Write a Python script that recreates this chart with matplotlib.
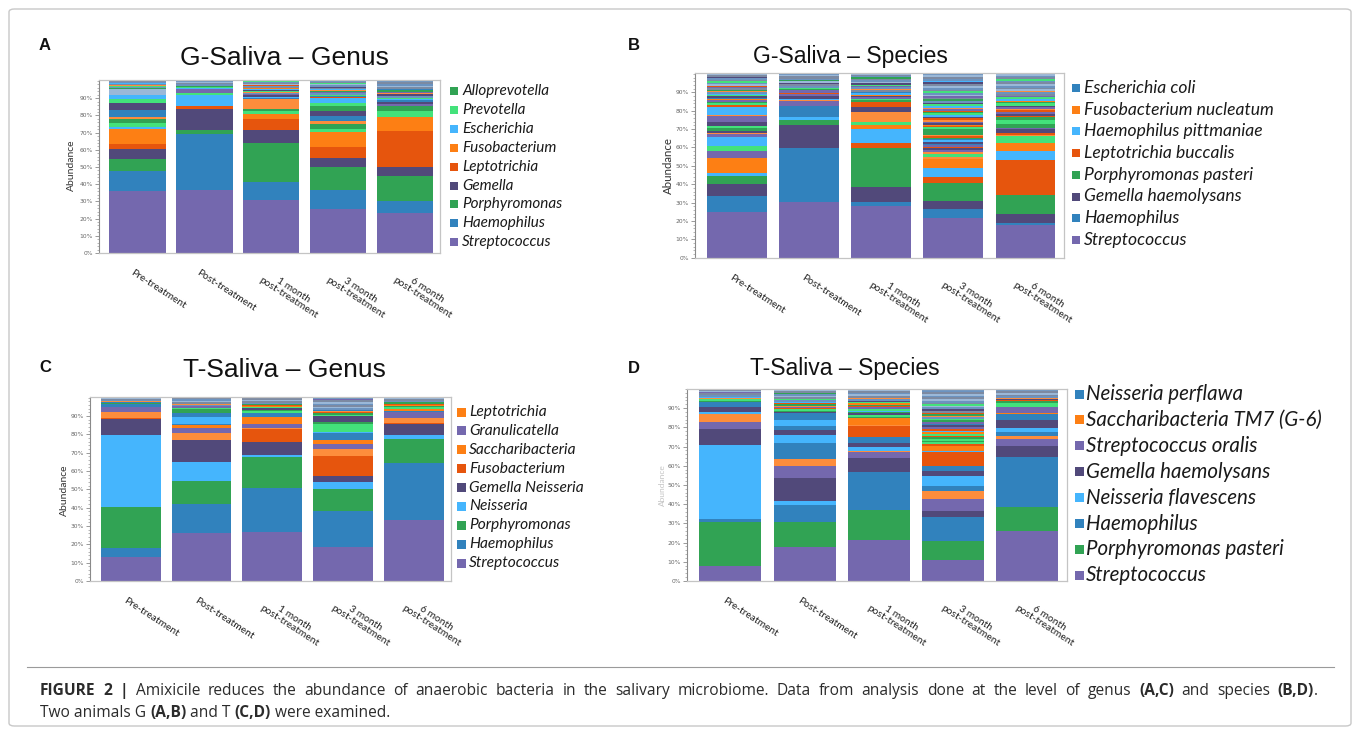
import matplotlib
matplotlib.use("Agg")
import numpy as np
import matplotlib.pyplot as plt
from matplotlib.patches import Rectangle, FancyBboxPatch
from matplotlib.ticker import MultipleLocator, FixedLocator, FuncFormatter
import matplotlib.transforms as mtransforms
from matplotlib.lines import Line2D

# ---------------- data ----------------
timepoints = ["Pre-treatment", "Post-treatment", "1 month\npost-treatment",
              "3 month\npost-treatment", "6 month\npost-treatment"]

# taxon keys: S Streptococcus, H Haemophilus, P Porphyromonas, G Gemella,
# L Leptotrichia, F Fusobacterium, O light orange taxon, E light-blue taxon,
# V light-green taxon, B/K/W minor taxa (blue-grey shades)
A_vals = [
    [36.2, 11.6, 6.8, 6.0, 2.9, 8.7, 1.0, 2.3, 2.7, 0.6, 4.6, 3.7, 2.5, 2.3, 3.5,
     0.6, 0.5, 0.7, 0.4, 0.6, 0.5, 0.6, 0.7],
    [36.8, 32.5, 2.3, 12.2, 1.9, 6.2, 1.0, 2.3,
     0.4, 0.6, 0.5, 0.6, 0.7, 0.8, 0.5, 0.7],
    [30.6, 10.4, 22.7, 8.1, 6.2, 2.9, 1.4, 1.3, 5.8, 0.8, 0.7, 0.9, 0.7,
     0.6, 0.4, 0.5, 0.6, 0.5, 0.5, 0.4, 0.7, 0.6, 0.4, 0.6, 0.7, 0.6, 0.4],
    [25.5, 11.3, 13.5, 4.9, 6.5, 8.9, 1.4, 2.9, 2.1, 2.9, 2.9, 2.4, 1.9, 2.9,
     0.8, 0.7, 0.6, 0.8, 0.7, 0.6, 0.5, 0.7, 0.8, 0.6, 0.7, 0.6, 0.5, 0.8, 0.6],
    [23.2, 6.8, 14.5, 5.4, 21.1, 7.8, 3.5, 3.4,
     1.2, 0.8, 1.0, 0.8, 0.7, 1.0, 1.2, 0.6, 0.9, 0.7, 1.0, 0.9, 0.8, 1.0, 1.0, 0.7],
]
A_keys = [
    "SHPGLFEVPOHGVEW" + "PBVOKEBK",
    "SHPGLEVS" + "OEVPBKWB",
    "SHPGLFVPOHEGS" + "BOVGEPFKBLWKBV",
    "SHPGLFVPOHGPVE" + "LHVBSPOEKGBWVKB",
    "SHPGLFVP" + "SGHEVBGOSPHKWBKB",
]

B_vals = [
    [24.9, 8.9, 6.3, 4.4, 1.8, 8.0, 3.9, 2.6, 5.1, 1.3, 0.5, 1.5, 1.2, 1.5, 1.8, 3.3, 0.5, 4.5,
     1.2, 0.8, 0.9, 0.7, 0.6, 0.9, 0.8, 0.7, 0.6, 1.0, 0.5, 0.8, 0.9, 0.7, 0.5, 0.8, 0.9,
     0.6, 1.0, 0.9, 0.7, 1.0, 0.5],
    [30.3, 29.6, 12.3, 2.7, 1.9, 5.9, 2.8,
     0.5, 0.5, 1.5, 1.0, 0.8, 1.2, 0.9, 0.6, 1.0, 0.8, 0.7, 0.9, 0.6, 1.0, 1.1, 0.8, 0.6],
    [28.1, 2.2, 8.0, 21.6, 2.7, 7.3, 2.3, 1.5, 5.8, 2.7, 2.7,
     0.8, 0.7, 1.0, 0.8, 0.6, 0.7, 0.9, 0.8, 0.6, 0.9, 0.8, 0.6, 0.7, 0.8, 0.9, 1.0, 0.6,
     0.9, 0.6, 0.4],
    [21.4, 5.1, 4.3, 9.7, 3.6, 4.5, 5.1, 1.0, 1.9,
     1.0, 0.9, 1.1, 0.7, 0.8, 1.0, 0.9, 0.8, 1.0, 0.6, 0.7, 0.8, 3.3, 0.8, 0.6, 0.8, 0.9,
     0.8, 1.0, 0.7, 1.0, 0.8, 0.9, 0.8, 0.7, 0.9, 0.8, 0.9, 0.8, 0.9, 1.0, 0.8, 1.0, 0.8,
     0.9, 1.0, 0.7, 1.0, 0.9, 0.8, 1.2, 1.0, 0.9, 1.2, 1.0, 0.8, 0.7],
    [17.8, 1.1, 4.9, 10.3, 19.1, 4.9, 4.1, 4.0,
     0.8, 0.9, 2.0, 0.8, 2.0, 2.4, 1.2, 0.7, 1.3, 1.0, 0.8, 0.7, 1.2, 0.8, 1.2, 0.8, 0.7,
     0.8, 1.0, 0.9, 1.0, 0.9, 0.6, 0.9, 1.0, 1.0, 0.8, 1.0, 1.0, 0.9, 0.9, 0.9, 0.9],
]
B_keys = [
    "SHGPEFSVESOGPVGSOE" + "LVPSFHGVEBOPKSLWBVKBGKW",
    "SHGPEHS" + "OEGSLSPVBKGWPBKWB",
    "SHGPLEFVOGL" + "PVSGFEHKOBSVGWBKPBKW",
    "SHGPLEFOV" + "OSGLSHGEHPLOPVLFGSOLGEVPLSOEVGBPKSWBVKBWKGEBKWB",
    "SHGPLEFV" + "OLGSPVPLGSLOSGVPFEVSKBOWKBWKBVKBW",
]

C_vals = [
    [13.3, 4.5, 22.7, 39.1, 8.6, 0.5, 3.3, 3.1, 1.4,
     0.6, 0.8, 0.5, 0.6, 0.5, 0.5],
    [26.4, 15.4, 12.7, 10.2, 12.2, 4.0, 2.7, 1.5, 0.5, 3.9, 2.0, 2.3,
     0.8, 0.7, 0.8, 0.5, 0.9, 0.8, 0.8, 0.9],
    [26.5, 24.0, 17.3, 0.7, 7.5, 6.9, 0.5, 2.4, 3.8, 1.9, 1.2,
     0.8, 0.7, 0.6, 0.5, 0.5, 0.7, 0.8, 0.9, 0.8, 1.0],
    [18.7, 19.7, 11.8, 3.6, 3.5, 10.9, 3.8, 2.5, 2.6, 3.8, 0.5, 4.1, 1.4, 3.3,
     0.6, 0.7, 0.6, 0.5, 0.8, 0.9, 0.8, 0.9, 0.8, 0.9, 0.8, 0.7, 0.8],
    [33.3, 31.2, 12.8, 2.3, 5.9, 0.5, 2.7, 3.3, 1.0, 1.0,
     0.7, 1.0, 0.6, 0.5, 0.8, 0.8, 0.8, 0.8],
]
C_keys = [
    "SHPEGLOSH" + "PHOBKW",
    "SHPEGOSFHEHP" + "VSBOKWBK",
    "SHPEGLOSFHV" + "PGVFLPBKWK",
    "SHPEGLOSFHEVPG" + "VPLOHBWKBWKSB",
    "SHPEGLOSHF" + "VPFLPBKW",
]

D_vals = [
    [7.8, 23.1, 1.4, 38.4, 8.3, 4.0, 3.9, 1.3, 2.5, 1.9,
     0.8, 0.5, 0.6, 1.0, 0.5, 0.8, 0.8, 0.6, 0.8, 1.0],
    [17.9, 12.7, 9.0, 1.9, 12.2, 6.1, 3.8, 8.2, 4.2, 2.5, 2.3, 3.1, 3.3,
     0.8, 0.6, 0.7, 0.6, 0.8, 0.5, 0.8, 0.7, 0.6, 0.9, 0.6, 0.8, 0.8, 0.9, 0.6, 0.9, 0.7, 0.5],
    [21.4, 15.6, 19.5, 7.4, 3.3, 0.7, 1.9, 2.1, 2.8, 5.9, 0.7, 3.5,
     0.8, 0.9, 0.7, 0.8, 0.7, 0.9, 0.8, 0.6, 0.8, 0.6, 0.7, 0.8, 0.9, 0.6, 0.9, 0.8, 0.9,
     0.8, 0.7, 0.5],
    [10.8, 10.2, 12.4, 3.1, 6.4, 3.7, 2.6, 5.5, 2.6, 2.3, 7.3, 1.0, 2.5,
     0.8, 1.0, 0.8, 1.0, 0.9, 0.7, 1.0, 0.8, 0.7, 0.9, 1.0, 1.0, 0.8, 1.0, 0.8, 0.9, 0.9,
     0.7, 0.8, 0.7, 1.0, 0.8, 1.0, 0.8, 0.7, 0.9, 0.9, 1.0, 0.9, 0.9, 0.9, 1.0, 0.8, 0.8],
    [26.2, 12.2, 26.4, 5.7, 3.2, 1.9, 2.2, 1.7, 4.1, 3.3, 0.5, 3.0, 2.3,
     0.8, 0.6, 0.7, 0.5, 0.8, 0.8, 0.7, 0.5, 0.9, 1.0],
]
D_keys = [
    "SPHEGSOEGH" + "HPVOEBKSWK",
    "SPHEGSOHEGHEH" + "GPVLSOPLEBVKWBPKWK",
    "SPHGSOEGHLOF" + "PVGPEVSLPFVGBOKWBKWK",
    "SPHGSOHEGHLEF" + "LVPVPLVFELSGHSPVBOPLKGBWVKBWKBWKBW",
    "SPHGSOHEGHFSV" + "PLGOBKWLKB",
]

A_legend = ["Alloprevotella", "Prevotella", "Escherichia", "Fusobacterium", "Leptotrichia",
            "Gemella", "Porphyromonas", "Haemophilus", "Streptococcus"]
A_legend_keys = "PVEFLGPHS"
B_legend = ["Escherichia coli", "Fusobacterium nucleatum", "Haemophilus pittmaniae",
            "Leptotrichia buccalis", "Porphyromonas pasteri", "Gemella haemolysans",
            "Haemophilus", "Streptococcus"]
B_legend_keys = "HFELPGHS"
C_legend = ["Leptotrichia", "Granulicatella", "Saccharibacteria", "Fusobacterium",
            "Gemella Neisseria", "Neisseria", "Porphyromonas", "Haemophilus", "Streptococcus"]
C_legend_keys = "FSFLGEPHS"
D_legend = ["Neisseria perflawa", "Saccharibacteria TM7 (G-6)", "Streptococcus oralis",
            "Gemella haemolysans", "Neisseria flavescens", "Haemophilus",
            "Porphyromonas pasteri", "Streptococcus"]
D_legend_keys = "HFSGEHPS"

yticks = [0, 10, 20, 30, 40, 50, 60, 70, 80, 90]

palette = {
    "S": "#7468ae", "H": "#3182bd", "P": "#31a354", "G": "#51497a",
    "L": "#e6550d", "F": "#fd7f14", "O": "#fd8d3c", "E": "#45b5fd",
    "V": "#43e27b", "B": "#6b93c0", "K": "#7c8aa2", "W": "#9ab8d8",
}

# ---------------- figure ----------------
W, H = 1360, 735
fig = plt.figure(figsize=(W / 100, H / 100), dpi=100)
fig.patch.set_facecolor("white")

def fx(x):
    return x / W

def fy(y):
    return 1 - y / H

# outer frame and caption separator
fig.patches.append(FancyBboxPatch((fx(9), fy(726)), fx(1342), (726 - 9) / H,
                                  boxstyle="round,pad=0,rounding_size=0.004",
                                  transform=fig.transFigure, facecolor="none",
                                  edgecolor="#c8c8c8", linewidth=1.0))
fig.lines.append(Line2D([fx(27), fx(1334)], [fy(667), fy(667)], transform=fig.transFigure,
                        color="#9a9a9a", linewidth=0.8))

LEG_FONT = "Lato"
TITLE_FONT = "Liberation Sans"


def draw_panel(box, width, vals, keys, title, title_xy, title_fs, letter, letter_xy,
               ylab_xy, ylab_fs, ylab_color, legend, legend_keys, leg):
    left, right, top, bottom, ytop = box
    ax = fig.add_axes([fx(left), fy(bottom), (right - left) / W, (bottom - top) / H])
    for i, (v, k) in enumerate(zip(vals, keys)):
        v = np.asarray(v, dtype=float)
        bottoms = np.concatenate([[0], np.cumsum(v)[:-1]])
        ax.bar(np.full(len(v), i), v, width, bottom=bottoms,
               color=[palette[c] for c in k], edgecolor="none", linewidth=0)
    ax.set_xlim(-0.5 - (1 - width) / 2 + 0.0, len(vals) - 0.5 + (1 - width) / 2 - 0.05)
    ax.set_ylim(0, ytop)
    ax.set_xticks([])
    ax.yaxis.set_major_locator(FixedLocator(yticks))
    ax.yaxis.set_minor_locator(MultipleLocator(2))
    ax.yaxis.set_major_formatter(FuncFormatter(lambda v, p: f"{int(v)}%"))
    ax.tick_params(axis="y", which="major", length=3, width=0.6, color="#8a8a8a",
                   labelsize=4.3, labelcolor="#666666", pad=1.5)
    ax.tick_params(axis="y", which="minor", length=1.6, width=0.5, color="#9a9a9a")
    for s in ["top", "right", "bottom"]:
        ax.spines[s].set_color("#c4c4c4")
        ax.spines[s].set_linewidth(0.9)
    ax.spines["left"].set_color("#8a8a8a")
    ax.spines["left"].set_linewidth(0.8)
    ax.set_facecolor("white")

    # x labels
    for i, lab in enumerate(timepoints):
        off = mtransforms.ScaledTranslation(-4 / 100, -15 / 100, fig.dpi_scale_trans)
        ax.text(i, 0, lab, transform=ax.transData + off, rotation=-33,
                rotation_mode="anchor", ha="left", va="top", multialignment="center",
                fontsize=7.4, family=LEG_FONT, color="#222222", linespacing=1.0)

    fig.text(fx(title_xy[0]), fy(title_xy[1]), title, ha="center", va="center",
             fontsize=title_fs, family=TITLE_FONT, color="#111111")
    fig.text(fx(letter_xy[0]), fy(letter_xy[1]), letter, ha="center", va="center",
             fontsize=12, family=TITLE_FONT, fontweight="bold", color="#111111")
    fig.text(fx(ylab_xy[0]), fy(ylab_xy[1]), "Abundance", ha="center", va="center",
             rotation=90, fontsize=ylab_fs, family=LEG_FONT, color=ylab_color)

    sq_x, sq, tx, y0, dy, fs = leg
    for j, (lab, k) in enumerate(zip(legend, legend_keys)):
        yc = y0 + j * dy
        fig.patches.append(Rectangle((fx(sq_x), fy(yc + sq / 2)), sq / W, sq / H,
                                     transform=fig.transFigure, facecolor=palette[k],
                                     edgecolor="none"))
        fig.text(fx(tx), fy(yc), lab, ha="left", va="center", fontsize=fs,
                 family=LEG_FONT, style="italic", color="#1a1a1a")
    return ax


draw_panel((99, 440, 80, 253, 100.6), 0.844, A_vals, A_keys,
           "G-Saliva \u2013 Genus", (284, 58), 19, "A", (45, 45),
           (71, 165), 7.5, "#333333", A_legend, A_legend_keys,
           (450, 8, 462, 91, 18.9, 11))
draw_panel((695, 1064, 73, 257.7, 100.5), 0.83, B_vals, B_keys,
           "G-Saliva \u2013 Species", (850, 57), 16.5, "B", (634, 45),
           (668, 165), 8.3, "#333333", B_legend, B_legend_keys,
           (1072, 8, 1084, 88, 21.7, 12.6))
draw_panel((90, 451, 397, 581, 100.4), 0.845, C_vals, C_keys,
           "T-Saliva \u2013 Genus", (284, 370), 19, "C", (45, 367),
           (64, 490), 7.5, "#333333", C_legend, C_legend_keys,
           (457, 9, 469, 412, 18.9, 11.2))
draw_panel((687, 1067, 388.5, 581, 100.2), 0.835, D_vals, D_keys,
           "T-Saliva \u2013 Species", (845, 369), 16.5, "D", (634, 368),
           (662, 485), 6, "#c4c4c4", D_legend, D_legend_keys,
           (1075, 9, 1086, 394, 25.9, 14.8))

# ---------------- caption with bold runs (first line justified) ----------------
CAP_FONT = "Open Sans"
CAP_FS = 11.2
cap_line1 = [("FIGURE 2 |", True),
             ("Amixicile reduces the abundance of anaerobic bacteria in the salivary microbiome. "
              "Data from analysis done at the level of genus", False),
             ("(A,C)", True), ("and species", False), ("(B,D)", True), (".", False)]
cap_line2 = [("Two animals G ", False), ("(A,B)", True), (" and T ", False),
             ("(C,D)", True), (" were examined.", False)]

fig.canvas.draw()
renderer = fig.canvas.get_renderer()
fig_w_px = fig.dpi * fig.get_figwidth()

# line 1: justified between x=40 and x=1318
words = []
for txt, bold in cap_line1:
    if txt == ".":
        words[-1] = (words[-1][0], words[-1][1], ".")
        continue
    for w in txt.split(" "):
        if w:
            words.append((w, bold, ""))
arts = []
total = 0.0
for w, bold, tail in words:
    t = fig.text(0, fy(691), w, ha="left", va="center", fontsize=CAP_FS, family=CAP_FONT,
                 fontweight="bold" if bold else "normal", color="#2b2b2b")
    wpx = t.get_window_extent(renderer=renderer).width
    t2 = None
    if tail:
        t2 = fig.text(0, fy(691), tail, ha="left", va="center", fontsize=CAP_FS,
                      family=CAP_FONT, color="#2b2b2b")
        w2 = t2.get_window_extent(renderer=renderer).width
    else:
        w2 = 0.0
    arts.append((t, wpx, t2, w2))
    total += wpx + w2
gap = (1318 - 40 - total) / (len(arts) - 1)
xp = 40.0
for t, wpx, t2, w2 in arts:
    t.set_x(xp / fig_w_px)
    if t2 is not None:
        t2.set_x((xp + wpx) / fig_w_px)
    xp += wpx + w2 + gap

# line 2: natural spacing
x = fx(40)
for txt, bold in cap_line2:
    t = fig.text(x, fy(713), txt, ha="left", va="center", fontsize=CAP_FS,
                 family=CAP_FONT, fontweight="bold" if bold else "normal",
                 color="#2b2b2b")
    bb = t.get_window_extent(renderer=renderer)
    x += bb.width / fig_w_px

fig.savefig("out.png", dpi=100, facecolor="white")
